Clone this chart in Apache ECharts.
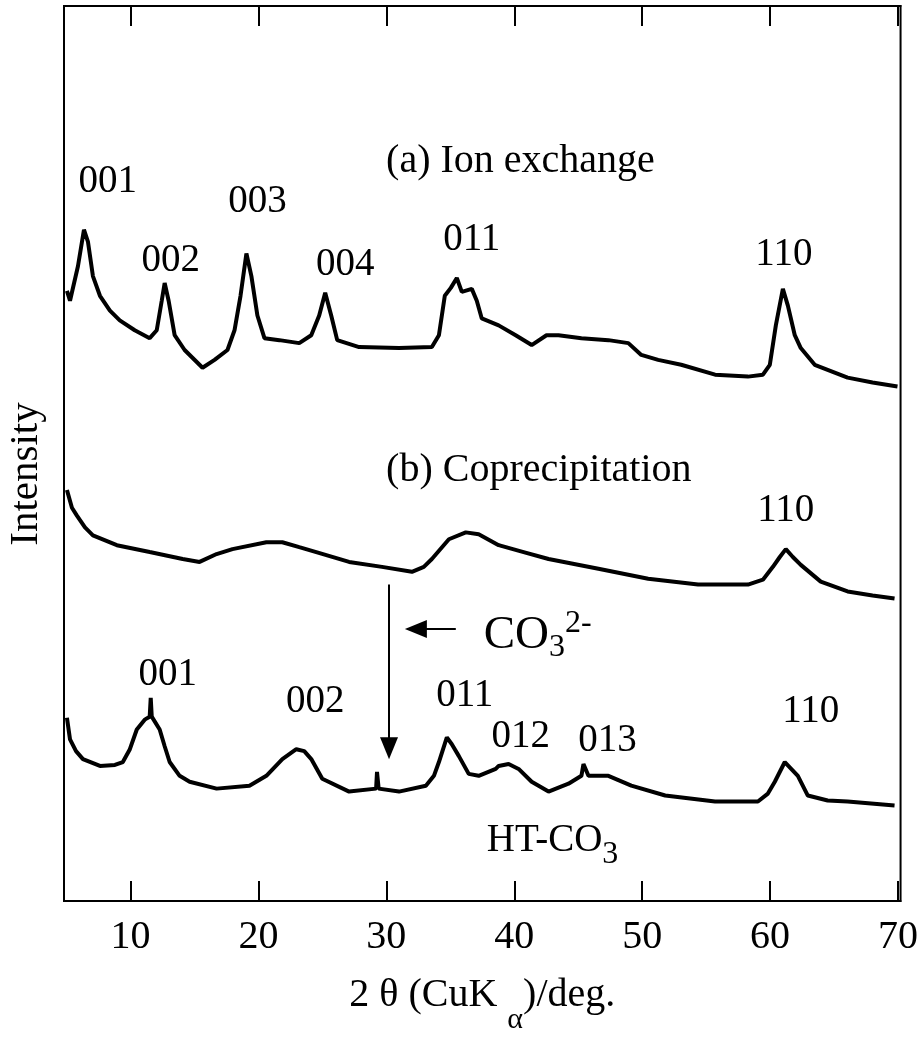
<!DOCTYPE html>
<html><head><meta charset="utf-8">
<script src="https://cdn.jsdelivr.net/npm/echarts@6/dist/echarts.min.js"></script>
<style>html,body{margin:0;padding:0;background:#fff}#c{width:921px;height:1040px}</style>
</head><body><div id="c"></div>
<script>
// ---- Data (2θ in degrees, intensity in arbitrary offset units) ----
const xTicks = [10, 20, 30, 40, 50, 60, 70];

// (a) Ion exchange
const thetaA = [5.03,5.27,5.89,6.36,6.67,7.06,7.61,8.39,9.16,10.33,11.5,12.05,12.44,12.67,12.98,13.45,14.23,15.63,16.57,17.58,18.13,18.6,19.06,19.45,19.92,20.47,21.64,23.19,24.13,24.75,25.22,25.69,26.16,27.87,30.99,33.56,34.11,34.57,35.04,35.51,35.9,36.68,37.07,37.46,38.78,40.11,41.36,42.52,43.46,45.25,47.36,48.92,49.93,51.25,53.05,55.7,58.27,59.44,59.98,60.45,61.0,61.39,61.93,62.4,63.49,66.06,68.01,69.96];
const intensityA = [612,602,637,674,662,627,607,592,582,572,564,572,602,620,602,567,552,534,542,552,572,607,650,627,587,564,562,559,567,587,610,587,562,555,554,555,567,607,615,625,611,614,602,584,577,567,557,567,567,564,562,559,547,542,537,527,525,527,537,577,614,597,567,554,537,524,519,515];

// (b) Coprecipitation
const thetaB = [5.03,5.42,5.81,6.44,7.06,8.93,11.5,14.08,15.4,16.73,17.97,20.62,21.87,23.19,24.52,27.09,29.66,32.0,32.93,33.56,34.89,36.21,37.22,38.78,40.73,42.68,46.58,50.47,54.37,58.27,59.44,60.22,60.76,61.23,61.78,62.4,63.96,66.06,68.01,69.73];
const intensityB = [410,392,384,372,364,354,347,340,337,345,350,357,357,352,347,337,332,327,332,340,360,367,365,354,347,340,330,320,314,314,319,332,342,350,342,334,317,307,303,300];

// HT-CO3
const thetaC = [5.03,5.27,5.74,6.28,7.61,8.78,9.4,9.95,10.49,11.11,11.5,11.58,11.66,12.28,12.67,13.06,13.84,14.62,16.73,19.3,20.62,21.87,22.96,23.58,24.13,24.99,27.09,29.2,29.27,29.4,30.99,33.09,33.72,34.11,34.73,35.12,35.67,36.44,37.22,38.55,38.78,39.56,40.34,41.36,42.68,44.24,45.25,45.41,45.8,47.36,49.15,51.8,55.7,59.05,59.83,60.37,61.15,62.17,62.95,64.5,66.06,69.73];
const intensityC = [179,157,145,137,130,131,134,147,167,177,180,199,180,167,150,134,120,114,107,110,120,137,147,145,137,117,104,107,124,107,104,110,120,134,159,152,140,122,120,127,130,132,127,114,104,112,120,132,120,120,110,100,94,94,102,114,134,120,100,95,94,90];

// Annotation texts
const peakLabelsA = ['001','002','003','004','011','110'];
const peakLabelsB = ['110'];
const peakLabelsC = ['001','002','011','012','013','110'];
const sampleLabels = ['(a) Ion exchange', '(b) Coprecipitation', 'HT-CO3'];

// ---- Layout of annotations (data coordinates) ----
const peakPosA = [[8.23,723],[13.14,643],[19.92,702],[26.78,638],[36.68,664],[61.08,649]];
const peakPosB = [[61.23,389]];
const peakPosC = [[12.91,223],[24.44,195],[36.13,201],[40.5,160],[47.28,156],[63.18,185]];
const samplePos = [[29.98,743],[29.98,430],[37.85,54]];
const co3Pos = [37.61,262];
const vArrow = [[30.21,314],[30.21,148]];
const hArrow = [[35.43,269],[32.31,269]];

const FONT = 'Liberation Serif';
const chart = echarts.init(document.getElementById('c'), null, {renderer:'canvas'});

function zip(xs, ys){ return xs.map((x,i)=>[x, ys[i]]); }

const lineStyle = {color:'#000', width:4};

const option = {
  animation:false,
  backgroundColor:'#fff',
  grid:{left:64, right:18, top:6, bottom:126, show:true, borderColor:'#000', borderWidth:2, backgroundColor:'transparent'},
  xAxis:[{
    type:'value', min:4.8, max:70.2, position:'bottom',
    name:'{n|2 θ (CuK }{sub|α}{n|)/deg.}', nameLocation:'middle', nameGap:54,
    nameTextStyle:{fontFamily:FONT, color:'#000', rich:{
      n:{fontFamily:FONT, fontSize:40, color:'#000', lineHeight:80, verticalAlign:'middle'},
      sub:{fontFamily:FONT, fontSize:30, color:'#000', lineHeight:30, verticalAlign:'bottom'}}},
    axisLine:{show:true, onZero:false, lineStyle:{color:'#000', width:2}},
    axisTick:{show:true, inside:true, length:20, customValues:xTicks, lineStyle:{color:'#000', width:2}},
    axisLabel:{show:true, customValues:xTicks, margin:16, fontFamily:FONT, fontSize:40, color:'#000'},
    splitLine:{show:false}
  },{
    type:'value', min:4.8, max:70.2, position:'top',
    axisLine:{show:true, onZero:false, lineStyle:{color:'#000', width:2}},
    axisTick:{show:true, inside:true, length:20, customValues:xTicks, lineStyle:{color:'#000', width:2}},
    axisLabel:{show:false},
    splitLine:{show:false}
  }],
  yAxis:{
    type:'value', min:-7, max:901,
    axisLine:{show:true, onZero:false, lineStyle:{color:'#000', width:2}},
    axisTick:{show:false}, axisLabel:{show:false}, splitLine:{show:false}
  },
  series:[
    {type:'line', name:'(a) Ion exchange', data:zip(thetaA,intensityA), showSymbol:false, lineStyle, silent:true},
    {type:'line', name:'(b) Coprecipitation', data:zip(thetaB,intensityB), showSymbol:false, lineStyle, silent:true},
    {type:'line', name:'HT-CO3', data:zip(thetaC,intensityC), showSymbol:false, lineStyle, silent:true,
      markLine:{silent:true, animation:false, symbol:['none','triangle'], symbolSize:[18,22],
        lineStyle:{color:'#000', width:2, type:'solid'}, label:{show:false},
        data:[[{coord:vArrow[0]},{coord:vArrow[1]}],[{coord:hArrow[0]},{coord:hArrow[1]}]]}}
  ]
};
chart.setOption(option);

// ---- Text annotations, placed through the chart's own coordinate conversion ----
const toPx = p => chart.convertToPixel({xAxisIndex:0, yAxisIndex:0}, p);
const rich = {
  n:{fontFamily:FONT, fontSize:39, fill:'#000', color:'#000', lineHeight:60, verticalAlign:'middle'},
  b:{fontFamily:FONT, fontSize:47, fill:'#000', color:'#000', lineHeight:56, verticalAlign:'middle'},
  sub:{fontFamily:FONT, fontSize:32, fill:'#000', color:'#000', lineHeight:32, verticalAlign:'bottom'},
  sup:{fontFamily:FONT, fontSize:32, fill:'#000', color:'#000', lineHeight:32, verticalAlign:'top'}
};
function txt(text, pos, align, size){
  const [x, y] = toPx(pos);
  return {type:'text', x, y, z:10, silent:true,
    style:{text, fill:'#000', fontFamily:FONT, fontSize:size||39, align, verticalAlign:'middle',
      textAlign:align, textVerticalAlign:'middle', rich}};
}
const g = [];
peakLabelsA.forEach((t,i)=>g.push(txt(t, peakPosA[i], 'center')));
peakLabelsB.forEach((t,i)=>g.push(txt(t, peakPosB[i], 'center')));
peakLabelsC.forEach((t,i)=>g.push(txt(t, peakPosC[i], 'center')));
g.push(txt(sampleLabels[0], samplePos[0], 'left', 40));
g.push(txt(sampleLabels[1], samplePos[1], 'left', 40));
g.push(txt('{n|HT-CO}{sub|3}', samplePos[2], 'left'));
g.push(txt('{b|CO}{sub|3}{sup|2-}', co3Pos, 'left'));
// y-axis title
g.push({type:'text', x:26, y:474, rotation:Math.PI/2, z:10, silent:true,
  style:{text:'Intensity', fill:'#000', fontFamily:FONT, fontSize:41, align:'center', verticalAlign:'middle',
    textAlign:'center', textVerticalAlign:'middle'}});
chart.setOption({graphic:{elements:g}});
</script></body></html>
